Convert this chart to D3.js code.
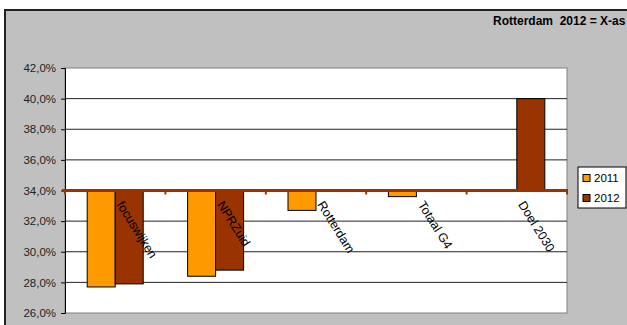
<!DOCTYPE html>
<html>
<head>
<meta charset="utf-8">
<script src="https://cdn.jsdelivr.net/npm/d3@7"></script>
<style>
  body { margin: 0; background: #fff; }
  svg { display: block; font-family: "Liberation Sans", Arial, sans-serif; }
</style>
</head>
<body>
<svg width="627" height="325"></svg>
<script>
var categories = ["focuswijken", "NPRZuid", "Rotterdam", "Totaal G4", "Doel 2030"];
var series = ["2011", "2012"];
var values2011 = [27.7, 28.4, 32.7, 33.6, null];
var values2012 = [27.9, 28.8, 34.0, null, 40.0];
var yTicks = [26, 28, 30, 32, 34, 36, 38, 40, 42];
var baseline = 34;
var colors = ["#ff9900", "#993300"];

var svg = d3.select("svg"),
	margin = {top: 68, right: 60, bottom: 12, left: 65},
	width = 567 - margin.left,
	height = 313 - margin.top;

// grey chart-area background with dark frame
svg.append("rect")
  .attr("x", 5).attr("y", 10)
  .attr("width", 700).attr("height", 400)
  .attr("fill", "#c0c0c0")
  .attr("stroke", "#222")
  .attr("stroke-width", 2);

svg.append("text")
  .attr("x", 493).attr("y", 25)
  .attr("font-size", 12)
  .attr("font-weight", "bold")
  .attr("xml:space", "preserve")
  .style("white-space", "pre")
  .text("Rotterdam  2012 = X-as");

var g = svg.append("g").attr("transform", "translate(" + margin.left + "," + margin.top + ")");

var x = d3.scaleBand()
  .domain(categories)
  .range([0, width]);

var x1 = d3.scaleBand()
  .domain(series)
  .range([0, 56]);

var y = d3.scaleLinear()
  .domain([26, 42])
  .range([height, 0]);

g.append("rect")
  .attr("width", width).attr("height", height)
  .attr("fill", "#fff")
  .attr("stroke", "#808080");

// gridlines
g.selectAll(".grid")
  .data(yTicks.filter(function(d) { return d > 26 && d < 42; }))
  .enter().append("line")
  .attr("x1", 0).attr("x2", width)
  .attr("y1", function(d) { return y(d); })
  .attr("y2", function(d) { return y(d); })
  .attr("stroke", "#222");

// left axis
var yAxis = g.append("g")
  .call(d3.axisLeft(y).tickValues(yTicks).tickSize(4).tickPadding(5)
    .tickFormat(function(d) { return d3.format(".1f")(d).replace(".", ",") + "%"; }));
yAxis.select(".domain").attr("stroke", "#000");
yAxis.selectAll("text").attr("font-size", 11.5).attr("fill", "#222")
  .attr("font-family", "Liberation Sans, Arial, sans-serif");

// bars
var rows = categories.map(function(c, i) {
  return {cat: c, vals: [values2011[i], values2012[i]]};
});

var groups = g.selectAll(".grp")
  .data(rows)
  .enter().append("g")
  .attr("transform", function(d) { return "translate(" + (x(d.cat) + x.bandwidth() / 2 - 28) + ",0)"; });

groups.selectAll("rect")
  .data(function(d) {
    return d.vals.map(function(v, j) { return {s: series[j], v: v, j: j}; })
      .filter(function(e) { return e.v != null && e.v !== baseline; });
  })
  .enter().append("rect")
  .attr("x", function(d) { return x1(d.s); })
  .attr("width", x1.bandwidth())
  .attr("y", function(d) { return Math.min(y(d.v), y(baseline)); })
  .attr("height", function(d) { return Math.abs(y(d.v) - y(baseline)); })
  .attr("fill", function(d) { return colors[d.j]; })
  .attr("stroke", "#000")
  .attr("stroke-width", 1);

// category axis crossing at 34%
var xAxis = g.append("g")
  .attr("transform", "translate(0," + y(baseline) + ")");

xAxis.append("line")
  .attr("x1", -3).attr("x2", width + 1)
  .attr("stroke", "#993300").attr("stroke-width", 3);

xAxis.selectAll(".tk")
  .data(categories.concat([null]))
  .enter().append("line")
  .attr("x1", function(d, i) { return i * x.step(); })
  .attr("x2", function(d, i) { return i * x.step(); })
  .attr("y1", 0).attr("y2", 4)
  .attr("stroke", "#993300").attr("stroke-width", 2);

xAxis.selectAll(".lbl")
  .data(categories)
  .enter().append("text")
  .attr("transform", function(d) {
    return "translate(" + (x(d) + x.bandwidth() / 2 + 9) + ",9) rotate(58)";
  })
  .attr("dy", "0.75em")
  .attr("font-size", 12.5)
  .attr("fill", "#000")
  .text(function(d) { return d; });

// legend
var legend = svg.append("g").attr("transform", "translate(578,167)");
legend.append("rect")
  .attr("width", 48).attr("height", 41)
  .attr("fill", "#fff").attr("stroke", "#000");

var items = legend.selectAll(".item")
  .data(series)
  .enter().append("g")
  .attr("transform", function(d, i) { return "translate(5," + (11 + i * 20) + ")"; });

items.append("rect")
  .attr("x", 0).attr("y", -3.5)
  .attr("width", 7).attr("height", 7)
  .attr("fill", function(d, i) { return colors[i]; })
  .attr("stroke", "#000");

items.append("text")
  .attr("x", 11).attr("dy", "0.35em")
  .attr("font-size", 11.5)
  .text(function(d) { return d; });
</script>
</body>
</html>
